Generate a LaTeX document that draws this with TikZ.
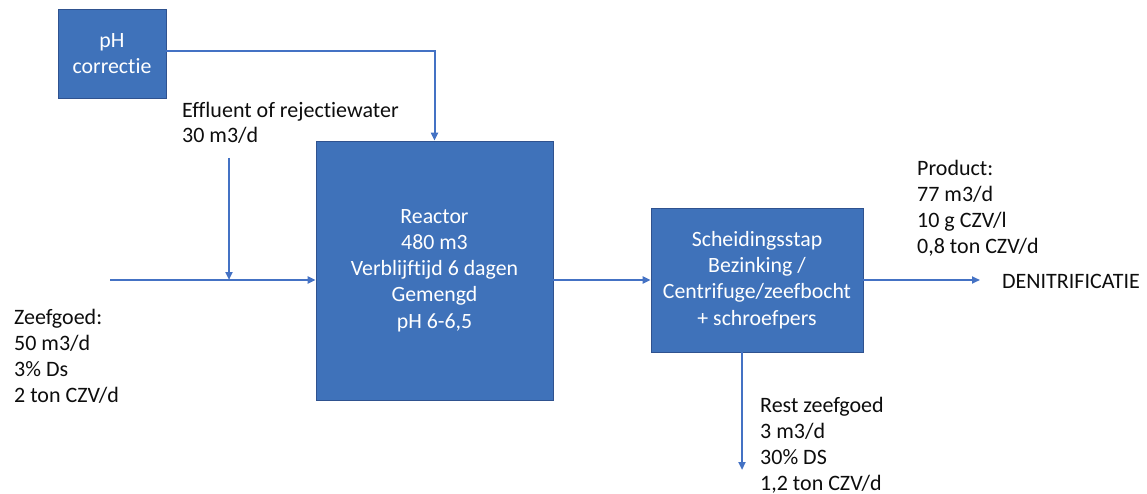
\documentclass[tikz,border=0pt]{standalone}
\usepackage{fontspec}
\setmainfont[Ligatures={NoCommon}]{Carlito}
\usetikzlibrary{arrows.meta}
\definecolor{boxfill}{RGB}{63,114,186}
\definecolor{boxline}{RGB}{47,82,143}
\definecolor{flow}{RGB}{68,114,196}
\definecolor{txt}{RGB}{13,13,13}
\tikzset{
  procbox/.style={draw=boxline, line width=0.8pt, fill=boxfill, text=white, align=center, inner sep=0pt,
    font=\fontsize{21.8}{26.2}\selectfont},
  lbl/.style={text=txt, align=left, inner sep=0pt, anchor=base west,
    font=\fontsize{22}{25.8}\selectfont},
  flowline/.style={draw=flow, line width=2pt, -{Triangle[length=8pt,width=7pt]}},
}
\begin{document}
\begin{tikzpicture}[x=1pt,y=-1pt]
\useasboundingbox (0,0) rectangle (1147,494);
% boxes
\node[procbox, minimum width=108pt, minimum height=89pt] (ph) at (112,53.5) {pH\\correctie};
\node[procbox, minimum width=237pt, minimum height=259pt] (reactor) at (434.5,270.5)
  {Reactor\\480 m3\\Verblijftijd 6 dagen\\Gemengd\\pH 6-6,5};
\node[procbox, minimum width=212pt, minimum height=144pt] (sep) at (757,280)
  {Scheidingsstap\\Bezinking /\\Centrifuge/zeefbocht\\+ schroefpers};
% labels (anchored at the baseline of the last line)
\node[lbl] (eff) at (182,143) {Effluent of rejectiewater\\30 m3/d};
\node[lbl] (zeef) at (14,402) {Zeefgoed:\\50 m3/d\\3\% Ds\\2 ton CZV/d};
\node[lbl] (prod) at (917,253) {Product:\\77 m3/d\\10 g CZV/l\\0,8 ton CZV/d};
\node[lbl] (deni) at (1002,288) {DENITRIFICATIE};
\node[lbl] (rest) at (760,490) {Rest zeefgoed\\3 m3/d\\30\% DS\\1,2 ton CZV/d};
% coordinates
\coordinate (in) at (110,280);
\coordinate (effstart) at (229,158);
\coordinate (effend) at (229,280);
\coordinate (out) at (980,280);
\coordinate (restend) at (742,470);
% connectors
\draw[flowline] (ph.east |- 0,51) -| (reactor.north);
\draw[flowline] (in) -- (in -| reactor.west);
\draw[flowline] (effstart) -- (effend);
\draw[flowline] (reactor.east |- in) -- (sep.west |- in);
\draw[flowline] (sep.east |- in) -- (out);
\draw[flowline] (restend |- sep.south) -- (restend);
\end{tikzpicture}
\end{document}
